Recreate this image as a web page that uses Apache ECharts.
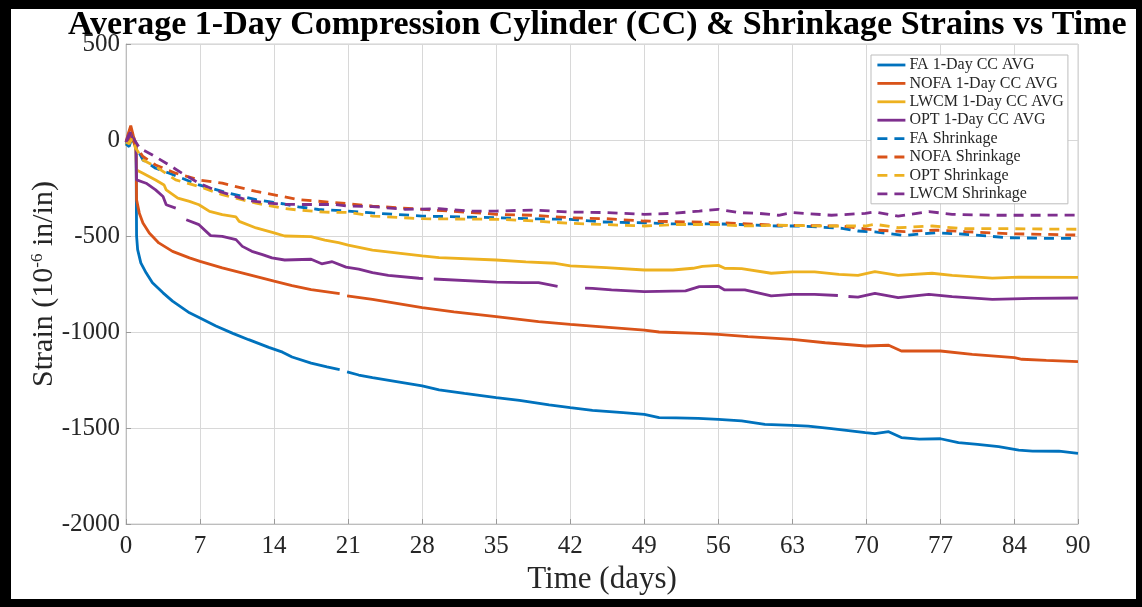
<!DOCTYPE html>
<html>
<head>
<meta charset="utf-8">
<script src="https://cdn.jsdelivr.net/npm/echarts@6/dist/echarts.min.js"></script>
<style>
html,body{margin:0;padding:0;background:#fff;}
#wrap{position:relative;width:1142px;height:607px;}
#chart{position:absolute;left:0;top:0;width:1142px;height:607px;}
#frame{position:absolute;left:0;top:0;width:1142px;height:607px;box-sizing:border-box;border-style:solid;border-color:#000;border-width:9px 6px 8px 11px;pointer-events:none;}
</style>
</head>
<body>
<div id="wrap"><div id="chart"></div><div id="frame"></div></div>
<script>
// ---- data (day, strain in 10^-6 in/in) ----
const titleText = 'Average 1-Day Compression Cylinder (CC) & Shrinkage Strains vs Time';
const xTicks = [0, 7, 14, 21, 28, 35, 42, 49, 56, 63, 70, 77, 84, 90];
const yTicks = [-2000, -1500, -1000, -500, 0, 500];
const seriesNames = ['FA 1-Day CC AVG','NOFA 1-Day CC AVG','LWCM 1-Day CC AVG','OPT 1-Day CC AVG','FA Shrinkage','NOFA Shrinkage','OPT Shrinkage','LWCM Shrinkage'];

const faCC = [[0,-20],[0.3,10],[0.55,40],[0.75,0],[0.95,-40],[1.0,-500],[1.1,-571],[1.4,-640],[1.9,-692],[2.5,-744],[3.5,-796],[4.4,-839],[6.0,-900],[7,-927],[8.5,-969],[10.1,-1007],[11.6,-1040],[13.5,-1080],[14.8,-1105],[15.7,-1130],[17.5,-1162],[19,-1182],[20.2,-1196],[20.5,null],[20.9,-1208],[22,-1224],[23.3,-1238],[26,-1262],[28,-1281],[29.6,-1302],[32,-1320],[35,-1342],[37.2,-1356],[40,-1380],[42,-1394],[44.1,-1408],[47,-1420],[49,-1429],[50.4,-1446],[52,-1447],[54.1,-1450],[56,-1455],[58.2,-1463],[60.4,-1481],[63,-1486],[64.5,-1490],[66.7,-1503],[69.9,-1524],[70.8,-1529],[72.1,-1519],[73.3,-1550],[75,-1558],[77,-1556],[78.7,-1576],[80.5,-1585],[82.5,-1597],[84.4,-1615],[85.7,-1620],[88.2,-1621],[90,-1632]];
const nofaCC = [[0,-10],[0.2,30],[0.45,75],[0.7,20],[0.95,-20],[1.0,-311],[1.26,-381],[1.6,-432],[2.2,-484],[3.1,-536],[4.4,-580],[6,-614],[7,-632],[9.1,-666],[11.6,-701],[14,-735],[15.7,-758],[17.5,-779],[20.2,-800],[20.5,null],[20.9,-812],[23.3,-830],[28,-873],[31,-895],[35,-920],[39,-946],[42,-960],[44.1,-969],[49,-990],[50.4,-1000],[54.1,-1007],[56,-1012],[58.8,-1024],[63,-1038],[66.1,-1056],[69.9,-1073],[72.1,-1069],[73.3,-1099],[77,-1099],[80,-1116],[84,-1134],[84.7,-1142],[87,-1148],[90,-1154]];
const lwcmCC = [[0,-30],[0.3,0],[0.55,20],[0.8,-20],[0.95,-60],[1.0,-156],[1.6,-173],[2.8,-208],[3.6,-234],[3.8,-260],[4.9,-303],[6,-320],[6.9,-337],[7.9,-372],[9.1,-389],[10.4,-401],[10.7,-424],[12.3,-458],[14,-484],[15,-500],[17.5,-503],[18.8,-521],[20.1,-534],[21,-547],[23.3,-573],[28,-604],[29.6,-613],[35,-625],[37.8,-635],[40.6,-642],[42,-656],[45.4,-665],[49,-677],[51.7,-677],[53.6,-668],[54.5,-658],[56,-653],[56.6,-668],[58.2,-670],[61,-694],[63,-687],[65.1,-687],[67.4,-700],[69.2,-705],[70.8,-686],[73,-705],[76.2,-694],[78.1,-705],[81.9,-719],[84.4,-714],[90,-715]];
const optCC = [[0,-10],[0.2,20],[0.4,40],[0.7,0],[0.95,-40],[1.0,-208],[1.9,-225],[2.8,-260],[3.5,-294],[3.8,-337],[4.7,-355],[4.9,null],[5.7,-415],[6.9,-441],[8.0,-498],[9.1,-502],[10.4,-519],[11,-554],[11.9,-580],[12.9,-597],[13.8,-614],[15,-625],[17.5,-621],[18.5,-645],[19.5,-634],[20.8,-662],[22,-672],[23.3,-691],[24.8,-705],[27.7,-720],[28.1,-722],[28.3,null],[29.1,-724],[35,-740],[37.5,-743],[39,-743],[40.8,-762],[41.1,null],[43.4,-772],[44.1,-773],[45.9,-781],[49,-790],[52.9,-786],[54.2,-764],[56,-762],[56.6,-781],[58.5,-781],[61,-812],[63,-804],[65.1,-804],[67.3,-810],[67.6,null],[68.3,-815],[69.2,-818],[70.8,-799],[73,-821],[75.9,-804],[78.1,-816],[81.9,-830],[85.7,-825],[90,-823]];
const faShr = [[0,-20],[0.3,-35],[0.6,20],[0.8,-20],[1.6,-104],[2.8,-147],[4.1,-173],[6.9,-234],[9.1,-268],[12.3,-311],[14.8,-332],[16.3,-348],[18.2,-362],[21,-370],[23.3,-380],[28,-396],[32.7,-402],[35,-405],[38,-410],[42,-413],[45,-427],[49,-431],[51.7,-437],[56,-437],[58,-440],[61.7,-448],[63.6,-448],[67.7,-460],[69.2,-474],[70.8,-479],[73.6,-497],[76.5,-483],[79.3,-491],[83.4,-509],[86.9,-512],[90,-512]];
const nofaShr = [[0,-10],[0.3,10],[0.5,40],[0.8,-20],[1.6,-86],[2.8,-130],[4.7,-173],[6.9,-208],[9.1,-225],[12.3,-268],[14.8,-294],[16.3,-310],[18.2,-319],[21,-332],[23.3,-344],[28,-361],[32.7,-378],[35,-387],[38.4,-392],[42,-405],[45.4,-410],[49,-422],[51.7,-425],[56,-430],[61.7,-444],[67.7,-448],[70.8,-469],[73.6,-477],[76.5,-469],[79.3,-477],[83.4,-488],[90,-495]];
const optShr = [[0,-10],[0.3,-20],[0.6,10],[0.9,-40],[1.6,-104],[2.8,-138],[4.7,-208],[6.9,-242],[9.1,-285],[12.3,-329],[14.8,-355],[16.3,-365],[18.8,-376],[21,-377],[23.3,-396],[28,-410],[35,-413],[38,-420],[42,-434],[45,-440],[49,-448],[52,-440],[56,-440],[58.2,-448],[61.7,-444],[66.1,-448],[69.9,-448],[70.8,-439],[73,-457],[76.2,-448],[79.3,-462],[83.4,-462],[90,-465]];
const lwcmShr = [[0,-10],[0.3,20],[0.5,40],[0.8,0],[1.3,-43],[2.5,-78],[3.8,-121],[5.3,-173],[6.9,-225],[8.5,-262],[10.1,-290],[11.6,-315],[13.2,-327],[14.8,-335],[16.3,-336],[19.8,-336],[21,-344],[23.3,-347],[26.4,-361],[29.6,-358],[32.7,-370],[35,-370],[38.4,-365],[42,-375],[45.4,-378],[49,-387],[51.7,-382],[54.2,-370],[56,-361],[57.9,-378],[59.8,-382],[61.7,-392],[63,-378],[66.7,-392],[69.9,-382],[70.8,-375],[73,-396],[75.9,-373],[78.1,-387],[81.9,-392],[85.7,-392],[90,-391]];

const seriesData = [faCC, nofaCC, lwcmCC, optCC, faShr, nofaShr, optShr, lwcmShr];
const seriesColors = ['#0072BD','#D95319','#EDB120','#7E2F8E','#0072BD','#D95319','#EDB120','#7E2F8E'];
const seriesDashed = [false,false,false,false,true,true,true,true];

const FONT = 'Liberation Serif';
const chart = echarts.init(document.getElementById('chart'), null, {renderer:'canvas'});

const series = seriesNames.map((n, i) => ({
  name: n,
  type: 'line',
  data: seriesData[i],
  showSymbol: false,
  symbol: 'none',
  connectNulls: false,
  clip: true,
  color: seriesColors[i],
  lineStyle: {color: seriesColors[i], width: 2.8, type: seriesDashed[i] ? [10, 7] : 'solid'},
  z: seriesDashed[i] ? 3 : 2,
  animation: false
}));

chart.setOption({
  backgroundColor: '#fff',
  animation: false,
  title: {
    text: titleText,
    left: 68, top: 8, padding: 0,
    textStyle: {fontFamily: FONT, fontWeight: 'bold', fontSize: 34, color: '#000'}
  },
  grid: {left: 126, right: 64, top: 44, bottom: 83, show: true, borderColor: '#cfcfcf', borderWidth: 1, backgroundColor: '#fff'},
  legend: {
    orient: 'vertical',
    left: 871, top: 55,
    data: seriesNames,
    itemWidth: 28, itemHeight: 16, itemGap: 2.4,
    padding: [2, 4, 2, 5],
    backgroundColor: '#fff',
    borderColor: '#bdbdbd', borderWidth: 1, borderRadius: 0,
    itemStyle: {opacity: 0},
    lineStyle: {width: 2.8},
    textStyle: {fontFamily: FONT, fontSize: 16, lineHeight: 16, color: '#262626', padding: [0,0,0,-1]},
    selectedMode: false
  },
  xAxis: {
    type: 'value', min: 0, max: 90, interval: 7,
    name: 'Time (days)', nameLocation: 'middle', nameGap: 40, nameMoveOverlap: false,
    nameTextStyle: {fontFamily: FONT, fontSize: 31, color: '#262626'},
    axisLine: {show: true, onZero: false, lineStyle: {color: '#bdbdbd', width: 1}},
    axisTick: {show: true, inside: true, length: 5, lineStyle: {color: '#9a9a9a'}},
    axisLabel: {fontFamily: FONT, fontSize: 25, color: '#262626', margin: 10,
      formatter: v => String(v)},
    splitLine: {show: true, lineStyle: {color: '#d8d8d8', width: 1}}
  },
  yAxis: {
    type: 'value', min: -2000, max: 500, interval: 500,
    name: 'Strain (10{sup|-6} in/in)', nameLocation: 'middle', nameGap: 66, nameMoveOverlap: false,
    nameTextStyle: {fontFamily: FONT, fontSize: 30, color: '#262626',
      rich: {sup: {fontFamily: FONT, fontSize: 17, color: '#262626', verticalAlign: 'top', padding: [0,0,14,0]}}},
    axisLine: {show: true, lineStyle: {color: '#bdbdbd', width: 1}},
    axisTick: {show: true, inside: true, length: 5, lineStyle: {color: '#9a9a9a'}},
    axisLabel: {fontFamily: FONT, fontSize: 25, color: '#262626', margin: 6,
      formatter: v => String(v)},
    splitLine: {show: true, lineStyle: {color: '#d8d8d8', width: 1}}
  },
  series: series
});
</script>
</body>
</html>
